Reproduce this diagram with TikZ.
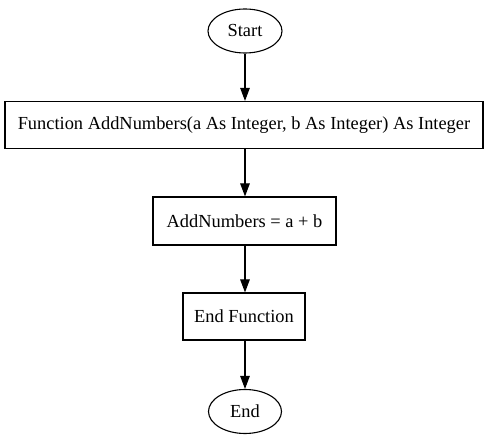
\documentclass[tikz,border=0pt]{standalone}
\usepackage{fontspec}
\setmainfont{Liberation Serif}
\usetikzlibrary{shapes.geometric,arrows.meta}
\begin{document}
\begin{tikzpicture}[x=1pt,y=-1pt,
  every node/.style={font=\fontsize{18.4}{22}\selectfont, inner sep=0pt, draw, line width=1.1pt},
  term/.style={ellipse},
  proc/.style={rectangle},
  flow/.style={line width=1.1pt, -{Triangle[length=13pt,width=9.5pt]}}]
\useasboundingbox (0,0) rectangle (490,443);
\node[term, minimum width=74pt, minimum height=44pt] (start) at (245,31) {Start};
\node[proc, minimum width=478pt, minimum height=47pt] (func) at (244,125) {Function AddNumbers(a As Integer, b As Integer) As Integer};
\node[proc, minimum width=183pt, minimum height=48pt] (body) at (244.5,221) {AddNumbers = a + b};
\node[proc, minimum width=122pt, minimum height=47pt] (endf) at (244,316.5) {End Function};
\node[term, minimum width=73pt, minimum height=44pt] (stop) at (245,411.5) {End};
\draw[flow] (start.south) -- (start.south |- func.north);
\draw[flow] (start.south |- func.south) -- (start.south |- body.north);
\draw[flow] (start.south |- body.south) -- (start.south |- endf.north);
\draw[flow] (start.south |- endf.south) -- (stop.north);
\end{tikzpicture}
\end{document}
